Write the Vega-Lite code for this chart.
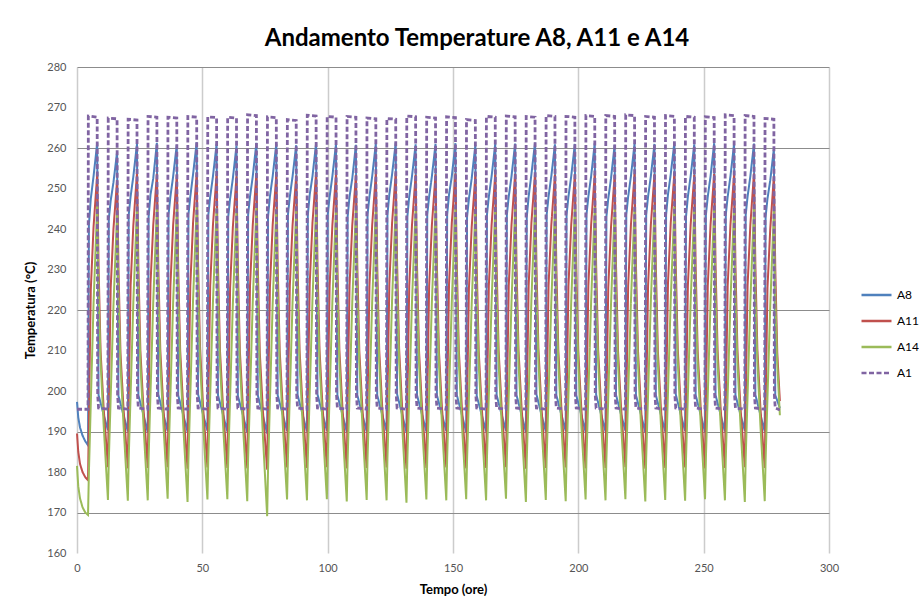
{
  "$schema": "https://vega.github.io/schema/vega-lite/v6.json",
  "width": 752,
  "height": 486,
  "autosize": {"type": "none"},
  "padding": {"left": 77, "top": 67, "right": 90, "bottom": 57},
  "background": "white",
  "config": {"view": {"stroke": null}, "font": "Lato"},
  "title": {"text": "Andamento Temperature A8, A11 e A14", "font": "Lato", "fontSize": 24, "fontWeight": "bold", "color": "#000000", "anchor": "middle", "offset": 10, "dx": 24},
  "data": {"values": [
    {"t":0,"A1":195.5,"A8":197.3,"A11":189.5,"A14":181.5},
    {"t":0.5,"A8":193.5,"A11":185,"A14":176.5},
    {"t":1.2,"A8":191,"A11":182,"A14":173.5},
    {"t":2.2,"A8":189,"A11":180,"A14":171.3},
    {"t":3.3,"A8":187.6,"A11":178.7,"A14":170},
    {"t":4.4,"A1":195.5,"A8":186.6,"A11":178,"A14":169.4},
    {"t":4.52,"A1":267.9},
    {"t":4.75,"A8":241,"A11":193,"A14":180},
    {"t":5.5,"A8":247.5,"A11":225,"A14":197},
    {"t":6.6,"A8":253,"A11":240.5,"A14":221.5},
    {"t":8.05,"A1":267.6,"A8":261.2,"A11":253.4,"A14":245.8},
    {"t":8.25,"A1":199},
    {"t":8.6,"A1":195.8,"A8":199,"A11":231,"A14":224.5},
    {"t":9.4,"A11":210,"A14":207.5},
    {"t":10.6,"A8":194.2,"A11":196,"A14":192},
    {"t":12.34,"A1":195.5,"A8":190.3,"A11":181.2,"A14":173.1},
    {"t":12.46,"A1":267.4},
    {"t":12.69,"A8":242.5,"A11":196.5,"A14":183},
    {"t":13.44,"A8":247,"A11":225.5,"A14":198.5},
    {"t":14.54,"A8":251.5,"A11":240,"A14":221},
    {"t":15.99,"A1":267.2,"A8":259,"A11":252,"A14":244},
    {"t":16.19,"A1":199},
    {"t":16.54,"A1":195.8,"A8":198.8,"A11":230.5,"A14":223.5},
    {"t":17.34,"A11":209.5,"A14":206.5},
    {"t":18.54,"A8":194.1,"A11":195.8,"A14":191.8},
    {"t":20.28,"A1":195.5,"A8":190,"A11":180.9,"A14":172.9},
    {"t":20.4,"A1":267.1},
    {"t":20.63,"A8":243.5,"A11":197,"A14":183.5},
    {"t":21.38,"A8":248,"A11":226,"A14":199},
    {"t":22.48,"A8":253,"A11":241,"A14":222},
    {"t":23.93,"A1":266.9,"A8":261,"A11":253.8,"A14":245.5},
    {"t":24.13,"A1":199},
    {"t":24.48,"A1":195.8,"A8":199,"A11":231,"A14":224},
    {"t":25.28,"A11":210,"A14":207},
    {"t":26.48,"A8":194.2,"A11":196,"A14":192},
    {"t":28.22,"A1":195.5,"A8":189.8,"A11":181,"A14":173},
    {"t":28.34,"A1":267.8},
    {"t":28.57,"A8":243,"A11":197.5,"A14":183.5},
    {"t":29.32,"A8":248.5,"A11":226.5,"A14":199.5},
    {"t":30.42,"A8":252.5,"A11":241,"A14":222},
    {"t":31.87,"A1":267.6,"A8":261.3,"A11":253.6,"A14":245.3},
    {"t":32.07,"A1":199},
    {"t":32.42,"A1":195.8,"A8":199.2,"A11":231.2,"A14":224.2},
    {"t":33.22,"A11":210.3,"A14":207.2},
    {"t":34.42,"A8":194.3,"A11":196.2,"A14":192.2},
    {"t":36.16,"A1":195.5,"A8":190.1,"A11":181.2,"A14":173.4},
    {"t":36.28,"A1":267.6},
    {"t":36.51,"A8":243.5,"A11":197,"A14":183.5},
    {"t":37.26,"A8":248,"A11":226,"A14":199},
    {"t":38.36,"A8":253,"A11":241,"A14":222},
    {"t":39.81,"A1":267.4,"A8":260.8,"A11":253.3,"A14":245},
    {"t":40.01,"A1":199},
    {"t":40.36,"A1":195.8,"A8":199,"A11":231,"A14":224},
    {"t":41.16,"A11":210,"A14":207},
    {"t":42.36,"A8":194.2,"A11":196,"A14":191.8},
    {"t":44.1,"A1":195.5,"A8":189.9,"A11":180.8,"A14":172.6},
    {"t":44.22,"A1":267.8},
    {"t":44.45,"A8":243.5,"A11":197,"A14":183},
    {"t":45.2,"A8":248,"A11":226,"A14":199},
    {"t":46.3,"A8":253.5,"A11":241.5,"A14":222.5},
    {"t":47.75,"A1":267.6,"A8":261.4,"A11":253.9,"A14":245.6},
    {"t":47.95,"A1":199},
    {"t":48.3,"A1":195.8,"A8":199.2,"A11":231.5,"A14":224.5},
    {"t":49.1,"A11":210.5,"A14":207.5},
    {"t":50.3,"A8":194.2,"A11":196,"A14":192},
    {"t":52.04,"A1":195.5,"A8":190.2,"A11":181.1,"A14":173.2},
    {"t":52.16,"A1":267.7},
    {"t":52.39,"A8":243.5,"A11":197,"A14":183.5},
    {"t":53.14,"A8":248,"A11":226,"A14":199},
    {"t":54.24,"A8":253,"A11":241,"A14":222},
    {"t":55.69,"A1":267.5,"A8":261,"A11":253.5,"A14":245.2},
    {"t":55.89,"A1":199},
    {"t":56.24,"A1":195.8,"A8":199,"A11":231,"A14":224},
    {"t":57.04,"A11":210,"A14":207},
    {"t":58.24,"A8":194.2,"A11":196,"A14":192},
    {"t":59.98,"A1":195.5,"A8":190,"A11":181,"A14":173.3},
    {"t":60.1,"A1":267.6},
    {"t":60.33,"A8":243,"A11":196.5,"A14":183},
    {"t":61.08,"A8":247.5,"A11":225.5,"A14":198.5},
    {"t":62.18,"A8":252.5,"A11":240.5,"A14":221.5},
    {"t":63.63,"A1":267.4,"A8":260.6,"A11":253,"A14":244.8},
    {"t":63.83,"A1":199},
    {"t":64.18,"A1":195.8,"A8":198.8,"A11":230.6,"A14":223.6},
    {"t":64.98,"A11":209.8,"A14":206.8},
    {"t":66.18,"A8":194.1,"A11":195.9,"A14":191.9},
    {"t":67.92,"A1":195.5,"A8":189.8,"A11":180.9,"A14":172.8},
    {"t":68.04,"A1":268.2},
    {"t":68.27,"A8":243.5,"A11":197,"A14":183.5},
    {"t":69.02,"A8":248,"A11":226,"A14":199},
    {"t":70.12,"A8":253,"A11":241,"A14":222},
    {"t":71.57,"A1":268,"A8":261.3,"A11":253.7,"A14":245.4},
    {"t":71.77,"A1":199},
    {"t":72.12,"A1":195.8,"A8":199,"A11":231,"A14":223.5},
    {"t":72.92,"A11":209.5,"A14":205.5},
    {"t":74.12,"A8":194,"A11":195.5,"A14":189.5},
    {"t":75.86,"A1":195.5,"A8":189.5,"A11":180.6,"A14":169.1},
    {"t":75.98,"A1":267.7},
    {"t":76.21,"A8":243,"A11":196,"A14":180.5},
    {"t":76.96,"A8":248,"A11":225.5,"A14":197.5},
    {"t":78.06,"A8":253,"A11":241,"A14":221.5},
    {"t":79.51,"A1":267.5,"A8":261,"A11":253.4,"A14":245},
    {"t":79.71,"A1":199},
    {"t":80.06,"A1":195.8,"A8":199,"A11":231,"A14":224},
    {"t":80.86,"A11":210,"A14":207},
    {"t":82.06,"A8":194.2,"A11":196,"A14":192},
    {"t":83.8,"A1":195.5,"A8":190.1,"A11":181.1,"A14":173.2},
    {"t":83.92,"A1":267},
    {"t":84.15,"A8":243.5,"A11":197,"A14":183.5},
    {"t":84.9,"A8":248,"A11":226,"A14":199},
    {"t":86,"A8":253,"A11":241,"A14":222},
    {"t":87.45,"A1":266.8,"A8":260.7,"A11":253.2,"A14":244.9},
    {"t":87.65,"A1":199},
    {"t":88,"A1":195.8,"A8":199,"A11":230.8,"A14":223.8},
    {"t":88.8,"A11":210,"A14":207},
    {"t":90,"A8":194.2,"A11":196,"A14":192},
    {"t":91.74,"A1":195.5,"A8":190,"A11":181,"A14":173},
    {"t":91.86,"A1":268.1},
    {"t":92.09,"A8":243.5,"A11":197.5,"A14":183.5},
    {"t":92.84,"A8":248.5,"A11":226.5,"A14":199.5},
    {"t":93.94,"A8":253,"A11":241.5,"A14":222.5},
    {"t":95.39,"A1":267.9,"A8":261.2,"A11":253.8,"A14":245.5},
    {"t":95.59,"A1":199},
    {"t":95.94,"A1":195.8,"A8":199.2,"A11":231.4,"A14":224.4},
    {"t":96.74,"A11":210.4,"A14":207.4},
    {"t":97.94,"A8":194.3,"A11":196.2,"A14":192.2},
    {"t":99.68,"A1":195.5,"A8":190.2,"A11":181.2,"A14":173.3},
    {"t":99.8,"A1":267.8},
    {"t":100.03,"A8":243.5,"A11":197,"A14":183.5},
    {"t":100.78,"A8":248,"A11":226,"A14":199},
    {"t":101.88,"A8":253,"A11":241,"A14":222},
    {"t":103.33,"A1":267.6,"A8":261,"A11":253.5,"A14":245.2},
    {"t":103.53,"A1":199},
    {"t":103.88,"A1":195.8,"A8":199,"A11":231,"A14":224},
    {"t":104.68,"A11":210,"A14":207},
    {"t":105.88,"A8":194.2,"A11":196,"A14":191.8},
    {"t":107.62,"A1":195.5,"A8":189.9,"A11":180.9,"A14":172.7},
    {"t":107.74,"A1":267.8},
    {"t":107.97,"A8":243,"A11":197,"A14":183},
    {"t":108.72,"A8":248,"A11":226,"A14":199},
    {"t":109.82,"A8":252.5,"A11":241,"A14":222},
    {"t":111.27,"A1":267.6,"A8":260.8,"A11":253.3,"A14":245},
    {"t":111.47,"A1":199},
    {"t":111.82,"A1":195.8,"A8":199,"A11":231,"A14":224},
    {"t":112.62,"A11":210,"A14":207},
    {"t":113.82,"A8":194.2,"A11":196,"A14":192},
    {"t":115.56,"A1":195.5,"A8":190,"A11":181,"A14":173.1},
    {"t":115.68,"A1":267.4},
    {"t":115.91,"A8":243.5,"A11":197,"A14":183.5},
    {"t":116.66,"A8":248,"A11":226,"A14":199},
    {"t":117.76,"A8":253,"A11":241,"A14":222},
    {"t":119.21,"A1":267.2,"A8":261.1,"A11":253.6,"A14":245.3},
    {"t":119.41,"A1":199},
    {"t":119.76,"A1":195.8,"A8":199,"A11":231.2,"A14":224.2},
    {"t":120.56,"A11":210.2,"A14":207.2},
    {"t":121.76,"A8":194.2,"A11":196,"A14":192},
    {"t":123.5,"A1":195.5,"A8":190.1,"A11":181.1,"A14":173},
    {"t":123.62,"A1":267.3},
    {"t":123.85,"A8":243.5,"A11":197.5,"A14":183.5},
    {"t":124.6,"A8":248.5,"A11":226.5,"A14":199.5},
    {"t":125.7,"A8":253.5,"A11":241.5,"A14":222.5},
    {"t":127.15,"A1":267.1,"A8":261.3,"A11":253.9,"A14":245.6},
    {"t":127.35,"A1":199},
    {"t":127.7,"A1":195.8,"A8":199.2,"A11":231.5,"A14":224.5},
    {"t":128.5,"A11":210.5,"A14":207.5},
    {"t":129.7,"A8":194.2,"A11":196,"A14":191.6},
    {"t":131.44,"A1":195.5,"A8":189.8,"A11":180.8,"A14":172.4},
    {"t":131.56,"A1":267.9},
    {"t":131.79,"A8":243,"A11":196.5,"A14":183},
    {"t":132.54,"A8":248,"A11":226,"A14":199},
    {"t":133.64,"A8":253,"A11":241,"A14":222},
    {"t":135.09,"A1":267.7,"A8":260.9,"A11":253.4,"A14":245.1},
    {"t":135.29,"A1":199},
    {"t":135.64,"A1":195.8,"A8":199,"A11":231,"A14":224},
    {"t":136.44,"A11":210,"A14":207},
    {"t":137.64,"A8":194.2,"A11":196,"A14":192},
    {"t":139.38,"A1":195.5,"A8":190,"A11":181,"A14":173.2},
    {"t":139.5,"A1":267.6},
    {"t":139.73,"A8":243.5,"A11":197,"A14":183.5},
    {"t":140.48,"A8":248,"A11":226,"A14":199},
    {"t":141.58,"A8":253,"A11":241,"A14":222},
    {"t":143.03,"A1":267.4,"A8":261,"A11":253.5,"A14":245.2},
    {"t":143.23,"A1":199},
    {"t":143.58,"A1":195.8,"A8":199,"A11":231,"A14":224},
    {"t":144.38,"A11":210,"A14":207},
    {"t":145.58,"A8":194.2,"A11":196,"A14":192},
    {"t":147.32,"A1":195.5,"A8":190.1,"A11":181.1,"A14":173},
    {"t":147.44,"A1":267.7},
    {"t":147.67,"A8":243.5,"A11":197,"A14":183.5},
    {"t":148.42,"A8":248.5,"A11":226.5,"A14":199.5},
    {"t":149.52,"A8":253,"A11":241.5,"A14":222},
    {"t":150.97,"A1":267.5,"A8":261.2,"A11":253.7,"A14":245.4},
    {"t":151.17,"A1":199},
    {"t":151.52,"A1":195.8,"A8":199,"A11":231.2,"A14":224.3},
    {"t":152.32,"A11":210.2,"A14":207.3},
    {"t":153.52,"A8":194.2,"A11":196,"A14":192.2},
    {"t":155.26,"A1":195.5,"A8":189.9,"A11":180.9,"A14":173.3},
    {"t":155.38,"A1":267},
    {"t":155.61,"A8":243,"A11":196.5,"A14":183},
    {"t":156.36,"A8":247.5,"A11":225.5,"A14":198.5},
    {"t":157.46,"A8":252.5,"A11":240.5,"A14":221.5},
    {"t":158.91,"A1":266.8,"A8":260.7,"A11":253.2,"A14":244.8},
    {"t":159.11,"A1":199},
    {"t":159.46,"A1":195.8,"A8":198.8,"A11":230.8,"A14":223.7},
    {"t":160.26,"A11":209.8,"A14":206.8},
    {"t":161.46,"A8":194.1,"A11":195.9,"A14":191.9},
    {"t":163.2,"A1":195.5,"A8":190,"A11":181,"A14":173},
    {"t":163.32,"A1":267.8},
    {"t":163.55,"A8":243.5,"A11":197,"A14":183.5},
    {"t":164.3,"A8":248,"A11":226,"A14":199},
    {"t":165.4,"A8":253,"A11":241,"A14":222},
    {"t":166.85,"A1":267.6,"A8":261,"A11":253.5,"A14":245.3},
    {"t":167.05,"A1":199},
    {"t":167.4,"A1":195.8,"A8":199,"A11":231,"A14":224},
    {"t":168.2,"A11":210,"A14":207},
    {"t":169.4,"A8":194.2,"A11":196,"A14":192},
    {"t":171.14,"A1":195.5,"A8":190.2,"A11":181.2,"A14":173.4},
    {"t":171.26,"A1":267.9},
    {"t":171.49,"A8":243.5,"A11":197,"A14":183.5},
    {"t":172.24,"A8":248,"A11":226,"A14":199},
    {"t":173.34,"A8":253,"A11":241,"A14":222},
    {"t":174.79,"A1":267.7,"A8":261.1,"A11":253.6,"A14":245.2},
    {"t":174.99,"A1":199},
    {"t":175.34,"A1":195.8,"A8":199,"A11":231,"A14":224},
    {"t":176.14,"A11":210,"A14":207},
    {"t":177.34,"A8":194.2,"A11":196,"A14":191.7},
    {"t":179.08,"A1":195.5,"A8":189.8,"A11":180.8,"A14":172.6},
    {"t":179.2,"A1":267.8},
    {"t":179.43,"A8":243,"A11":196.5,"A14":183},
    {"t":180.18,"A8":248,"A11":226,"A14":199},
    {"t":181.28,"A8":253.5,"A11":241.5,"A14":222.5},
    {"t":182.73,"A1":267.6,"A8":261.3,"A11":253.8,"A14":245.5},
    {"t":182.93,"A1":199},
    {"t":183.28,"A1":195.8,"A8":199.2,"A11":231.4,"A14":224.4},
    {"t":184.08,"A11":210.4,"A14":207.4},
    {"t":185.28,"A8":194.2,"A11":196,"A14":192},
    {"t":187.02,"A1":195.5,"A8":190,"A11":181,"A14":173.1},
    {"t":187.14,"A1":268},
    {"t":187.37,"A8":243.5,"A11":197,"A14":183.5},
    {"t":188.12,"A8":248,"A11":226,"A14":199},
    {"t":189.22,"A8":253,"A11":241,"A14":222},
    {"t":190.67,"A1":267.8,"A8":260.9,"A11":253.4,"A14":245},
    {"t":190.87,"A1":199},
    {"t":191.22,"A1":195.8,"A8":199,"A11":231,"A14":224},
    {"t":192.02,"A11":210,"A14":207},
    {"t":193.22,"A8":194.2,"A11":196,"A14":191.8},
    {"t":194.96,"A1":195.5,"A8":190.1,"A11":181.1,"A14":172.8},
    {"t":195.08,"A1":267.8},
    {"t":195.31,"A8":243.5,"A11":197,"A14":183.5},
    {"t":196.06,"A8":248,"A11":226,"A14":199},
    {"t":197.16,"A8":253,"A11":241,"A14":222},
    {"t":198.61,"A1":267.6,"A8":261,"A11":253.5,"A14":245.2},
    {"t":198.81,"A1":199},
    {"t":199.16,"A1":195.8,"A8":199,"A11":231,"A14":224},
    {"t":199.96,"A11":210,"A14":207},
    {"t":201.16,"A8":194.2,"A11":196,"A14":192},
    {"t":202.9,"A1":195.5,"A8":189.9,"A11":180.9,"A14":173.2},
    {"t":203.02,"A1":268},
    {"t":203.25,"A8":243.5,"A11":197,"A14":183.5},
    {"t":204,"A8":248,"A11":226,"A14":199},
    {"t":205.1,"A8":253,"A11":241,"A14":222},
    {"t":206.55,"A1":267.8,"A8":261.2,"A11":253.6,"A14":245.4},
    {"t":206.75,"A1":199},
    {"t":207.1,"A1":195.8,"A8":199.1,"A11":231.2,"A14":224.3},
    {"t":207.9,"A11":210.2,"A14":207.3},
    {"t":209.1,"A8":194.2,"A11":196,"A14":192},
    {"t":210.84,"A1":195.5,"A8":190,"A11":181,"A14":173},
    {"t":210.96,"A1":268},
    {"t":211.19,"A8":243,"A11":196.5,"A14":183},
    {"t":211.94,"A8":247.5,"A11":225.5,"A14":198.5},
    {"t":213.04,"A8":252.5,"A11":240.5,"A14":221.5},
    {"t":214.49,"A1":267.8,"A8":260.8,"A11":253.3,"A14":244.9},
    {"t":214.69,"A1":199},
    {"t":215.04,"A1":195.8,"A8":199,"A11":230.8,"A14":223.8},
    {"t":215.84,"A11":209.8,"A14":206.8},
    {"t":217.04,"A8":194.2,"A11":196,"A14":192.1},
    {"t":218.78,"A1":195.5,"A8":190.2,"A11":181.2,"A14":173.3},
    {"t":218.9,"A1":268.2},
    {"t":219.13,"A8":243.5,"A11":197,"A14":183.5},
    {"t":219.88,"A8":248,"A11":226,"A14":199},
    {"t":220.98,"A8":253,"A11":241,"A14":222},
    {"t":222.43,"A1":268,"A8":261.1,"A11":253.7,"A14":245.3},
    {"t":222.63,"A1":199},
    {"t":222.98,"A1":195.8,"A8":199,"A11":231.2,"A14":224.2},
    {"t":223.78,"A11":210.2,"A14":207.2},
    {"t":224.98,"A8":194.2,"A11":196,"A14":191.7},
    {"t":226.72,"A1":195.5,"A8":189.8,"A11":180.8,"A14":172.7},
    {"t":226.84,"A1":267.8},
    {"t":227.07,"A8":243.5,"A11":197,"A14":183.5},
    {"t":227.82,"A8":248,"A11":226,"A14":199},
    {"t":228.92,"A8":253,"A11":241,"A14":222},
    {"t":230.37,"A1":267.6,"A8":261,"A11":253.5,"A14":245.1},
    {"t":230.57,"A1":199},
    {"t":230.92,"A1":195.8,"A8":199,"A11":231,"A14":224},
    {"t":231.72,"A11":210,"A14":207},
    {"t":232.92,"A8":194.2,"A11":196,"A14":192},
    {"t":234.66,"A1":195.5,"A8":190,"A11":181,"A14":173.1},
    {"t":234.78,"A1":268},
    {"t":235.01,"A8":243.5,"A11":197.5,"A14":183.5},
    {"t":235.76,"A8":248.5,"A11":226.5,"A14":199.5},
    {"t":236.86,"A8":253.5,"A11":241.5,"A14":222.5},
    {"t":238.31,"A1":267.8,"A8":261.3,"A11":253.8,"A14":245.5},
    {"t":238.51,"A1":199},
    {"t":238.86,"A1":195.8,"A8":199.2,"A11":231.5,"A14":224.5},
    {"t":239.66,"A11":210.5,"A14":207.5},
    {"t":240.86,"A8":194.2,"A11":196,"A14":192},
    {"t":242.6,"A1":195.5,"A8":190.1,"A11":181.1,"A14":172.9},
    {"t":242.72,"A1":267.8},
    {"t":242.95,"A8":243,"A11":197,"A14":183},
    {"t":243.7,"A8":248,"A11":226,"A14":199},
    {"t":244.8,"A8":253,"A11":241,"A14":222},
    {"t":246.25,"A1":267.6,"A8":260.9,"A11":253.4,"A14":245},
    {"t":246.45,"A1":199},
    {"t":246.8,"A1":195.8,"A8":199,"A11":231,"A14":224},
    {"t":247.6,"A11":210,"A14":207},
    {"t":248.8,"A8":194.2,"A11":196,"A14":192.1},
    {"t":250.54,"A1":195.5,"A8":189.9,"A11":180.9,"A14":173.3},
    {"t":250.66,"A1":267.7},
    {"t":250.89,"A8":243.5,"A11":197,"A14":183.5},
    {"t":251.64,"A8":248,"A11":226,"A14":199},
    {"t":252.74,"A8":253,"A11":241,"A14":222},
    {"t":254.19,"A1":267.5,"A8":261.2,"A11":253.6,"A14":245.3},
    {"t":254.39,"A1":199},
    {"t":254.74,"A1":195.8,"A8":199,"A11":231.2,"A14":224.2},
    {"t":255.54,"A11":210.2,"A14":207.2},
    {"t":256.74,"A8":194.2,"A11":196,"A14":192},
    {"t":258.48,"A1":195.5,"A8":190,"A11":181,"A14":173},
    {"t":258.6,"A1":268.2},
    {"t":258.83,"A8":243.5,"A11":197,"A14":183.5},
    {"t":259.58,"A8":248,"A11":226,"A14":199},
    {"t":260.68,"A8":253,"A11":241,"A14":222},
    {"t":262.13,"A1":268,"A8":261,"A11":253.5,"A14":245.2},
    {"t":262.33,"A1":199},
    {"t":262.68,"A1":195.8,"A8":199,"A11":231,"A14":224},
    {"t":263.48,"A11":210,"A14":207},
    {"t":264.68,"A8":194.2,"A11":196,"A14":191.7},
    {"t":266.42,"A1":195.5,"A8":190.2,"A11":181.2,"A14":172.6},
    {"t":266.54,"A1":268},
    {"t":266.77,"A8":243.5,"A11":197,"A14":183.5},
    {"t":267.52,"A8":248,"A11":226,"A14":199},
    {"t":268.62,"A8":253,"A11":241,"A14":222},
    {"t":270.07,"A1":267.8,"A8":261.1,"A11":253.7,"A14":245.4},
    {"t":270.27,"A1":199},
    {"t":270.62,"A1":195.8,"A8":199.1,"A11":231.3,"A14":224.3},
    {"t":271.42,"A11":210.3,"A14":207.3},
    {"t":272.62,"A8":194.2,"A11":196,"A14":191.8},
    {"t":274.36,"A1":195.5,"A8":190,"A11":181,"A14":172.8},
    {"t":274.48,"A1":267.3},
    {"t":274.71,"A8":243,"A11":196.5,"A14":183},
    {"t":275.46,"A8":247.5,"A11":225.5,"A14":198.5},
    {"t":276.56,"A8":252,"A11":240,"A14":221},
    {"t":278.01,"A1":267.1,"A8":259.8,"A11":253,"A14":244.5},
    {"t":278.21,"A1":199},
    {"t":278.56,"A1":195.8,"A8":199,"A11":230.5,"A14":223.5},
    {"t":279.36,"A11":209.5,"A14":206.5},
    {"t":280.4,"A1":195.3,"A8":195.8,"A11":197.5,"A14":194}
  ]},
  "transform": [
    {"fold": ["A8", "A11", "A14", "A1"], "as": ["s", "v"]},
    {"filter": "isValid(datum.v)"}
  ],
  "encoding": {
    "x": {
      "field": "t", "type": "quantitative",
      "scale": {"domain": [0, 300], "nice": false, "zero": false},
      "axis": {
        "values": [0, 50, 100, 150, 200, 250, 300],
        "title": "Tempo (ore)", "titleFont": "Lato", "titleFontSize": 13, "titleFontWeight": "bold", "titleColor": "#000000", "titlePadding": 10,
        "labelFont": "Lato", "labelFontSize": 11, "labelColor": "#555555", "labelPadding": 9, "labelFlush": false,
        "domain": false, "ticks": false, "grid": true, "gridColor": "#cccccc", "gridWidth": 1.5
      }
    },
    "y": {
      "field": "v", "type": "quantitative",
      "scale": {"domain": [160, 280], "nice": false, "zero": false},
      "axis": {
        "values": [160, 170, 180, 190, 200, 210, 220, 230, 240, 250, 260, 270, 280],
        "title": "Temperatura (°C)", "titleFont": "Lato", "titleFontSize": 13, "titleFontWeight": "bold", "titleColor": "#000000", "titlePadding": 9,
        "labelFont": "Lato", "labelFontSize": 11, "labelColor": "#555555", "labelPadding": 11,
        "domain": false, "ticks": false, "grid": true, "gridColor": "#8c8c8c", "gridWidth": 1.2,
        "gridOpacity": {"condition": {"test": "datum.value == 170 || datum.value == 190 || datum.value == 220 || datum.value == 260 || datum.value == 280", "value": 1}, "value": 0}
      }
    },
    "color": {
      "field": "s", "type": "nominal",
      "scale": {"domain": ["A8", "A11", "A14", "A1"], "range": ["#4F81BD", "#C0504D", "#9BBB59", "#8064A2"]},
      "legend": {"title": null, "orient": "none", "legendX": 783, "legendY": 218, "padding": 0, "symbolType": "stroke", "symbolSize": 900, "symbolStrokeWidth": 2.5, "clipHeight": 20, "rowPadding": 6, "labelOffset": 4, "labelFont": "Lato", "labelFontSize": 12, "labelColor": "#000000"}
    },
    "strokeDash": {
      "field": "s", "type": "nominal",
      "scale": {"domain": ["A8", "A11", "A14", "A1"], "range": [[1, 0], [1, 0], [1, 0], [5, 2.5]]},
      "legend": {"title": null, "orient": "none", "legendX": 783, "legendY": 218, "padding": 0, "symbolType": "stroke", "symbolSize": 900, "symbolStrokeWidth": 2.5, "clipHeight": 20, "rowPadding": 6, "labelOffset": 4, "labelFont": "Lato", "labelFontSize": 12, "labelColor": "#000000"}
    }
  },
  "layer": [
    {"transform": [{"filter": "datum.s === 'A8'"}], "mark": {"type": "line", "strokeWidth": 2}},
    {"transform": [{"filter": "datum.s === 'A11'"}], "mark": {"type": "line", "strokeWidth": 2}},
    {"transform": [{"filter": "datum.s === 'A14'"}], "mark": {"type": "line", "strokeWidth": 2}},
    {"transform": [{"filter": "datum.s === 'A1'"}], "mark": {"type": "line", "strokeWidth": 2.8}}
  ]
}
